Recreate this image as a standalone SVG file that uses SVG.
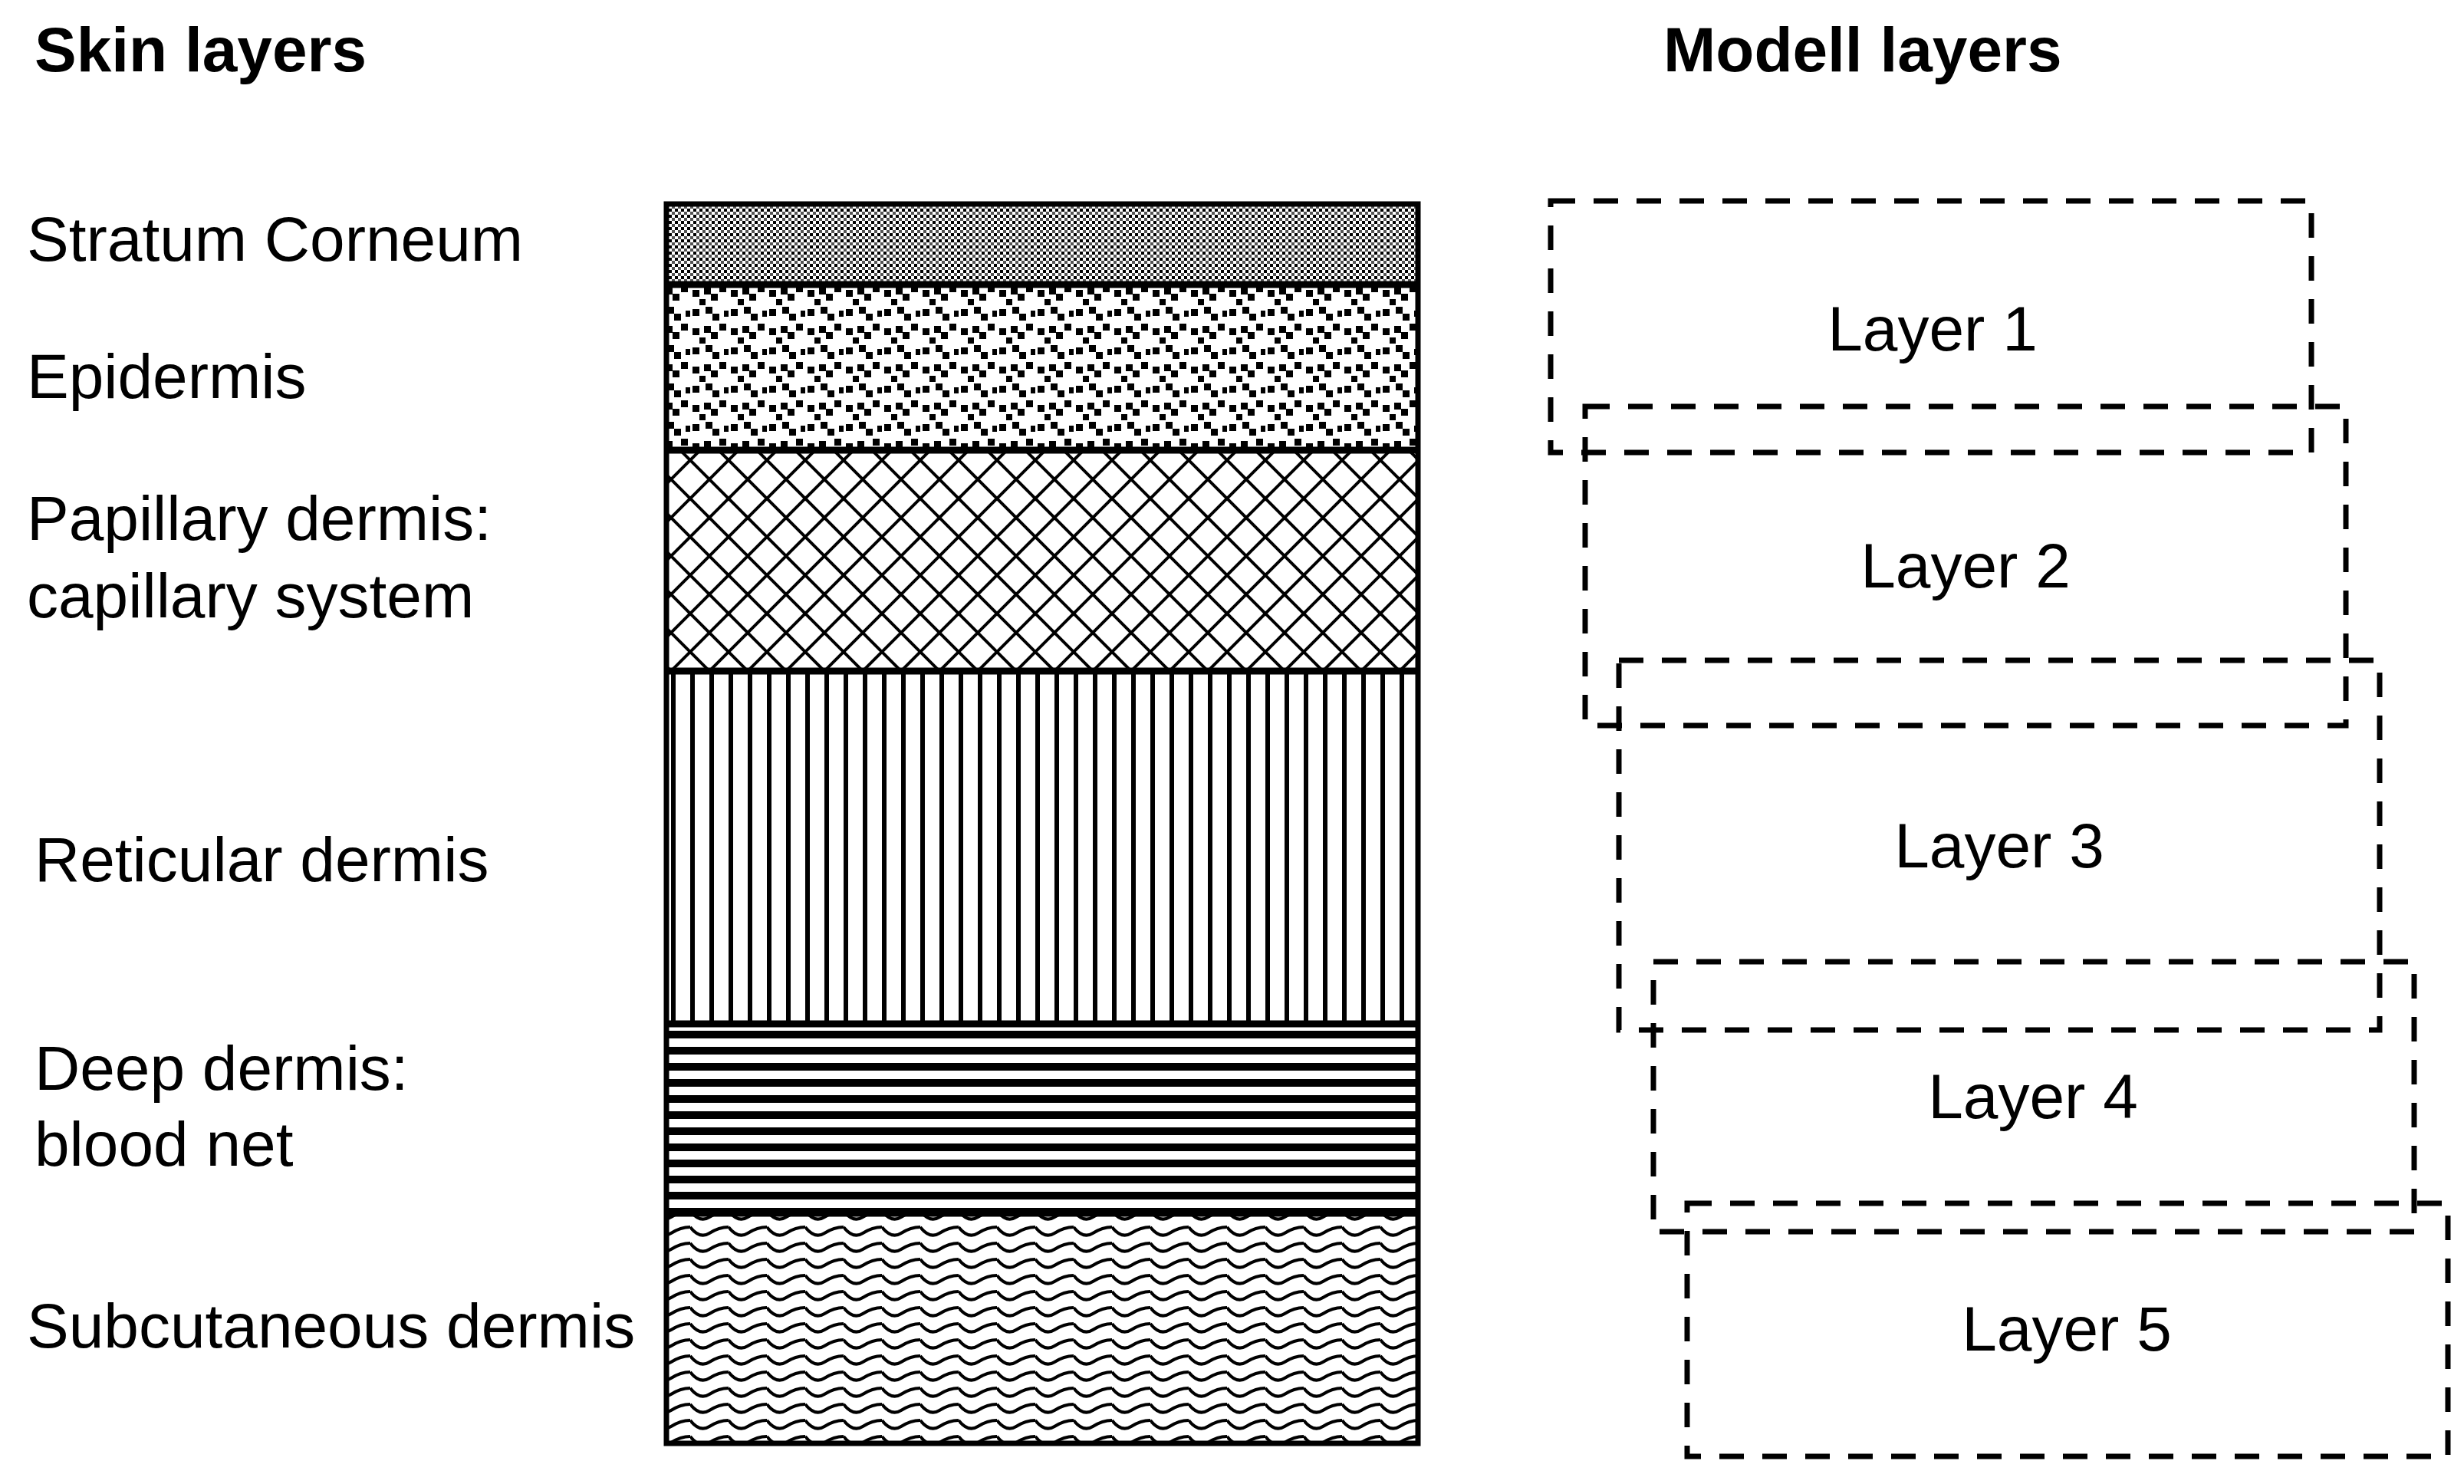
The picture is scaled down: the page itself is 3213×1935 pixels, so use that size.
<svg xmlns="http://www.w3.org/2000/svg" width="3213" height="1935" viewBox="0 0 3213 1935">
<defs>
<style>
text{font-family:"Liberation Sans",Arial,sans-serif;font-size:82px;fill:#000}
.t{font-weight:bold}
.c{text-anchor:middle}
.d{fill:none;stroke:#000;stroke-width:7;stroke-dasharray:32 24}
.sep{stroke:#000;stroke-width:9}
</style>
<pattern id="p1" width="8" height="8" patternUnits="userSpaceOnUse"><rect width="8" height="8" fill="#fff"/><rect x="0" y="0" width="4" height="4" fill="#000"/><rect x="4" y="4" width="4" height="4" fill="#555"/></pattern>
<pattern id="p2" width="50" height="50" patternUnits="userSpaceOnUse"><rect width="50" height="50" fill="#fff"/><g fill="#000"><rect x="3" y="3" width="9" height="9"/><rect x="20" y="0" width="9" height="9"/><rect x="29" y="9" width="9" height="9"/><rect x="44" y="5" width="8" height="8"/><rect x="3" y="28" width="9" height="9"/><rect x="18" y="25" width="9" height="9"/><rect x="27" y="33" width="9" height="9"/><rect x="38" y="22" width="9" height="9"/><rect x="12" y="40" width="8" height="8"/></g></pattern>
<pattern id="p3" width="50" height="50" patternUnits="userSpaceOnUse"><rect width="50" height="50" fill="#fff"/><path d="M0 0L50 50M50 0L0 50" stroke="#000" stroke-width="4"/></pattern>
<pattern id="p4" width="25" height="40" patternUnits="userSpaceOnUse"><rect width="25" height="40" fill="#fff"/><rect x="0" width="6" height="40" fill="#000"/></pattern>
<pattern id="p5" width="40" height="21" patternUnits="userSpaceOnUse"><rect width="40" height="21" fill="#fff"/><rect y="0" width="40" height="10" fill="#000"/></pattern>
<pattern id="p6" width="50" height="21" patternUnits="userSpaceOnUse"><rect width="50" height="21" fill="#fff"/><path d="M0 4Q12.5 20 25 12T50 4" fill="none" stroke="#000" stroke-width="4"/></pattern>
</defs>
<text class="t" x="45" y="93">Skin layers</text>
<text class="t" x="2169" y="93">Modell layers</text>
<g id="skin">
<rect x="869" y="266" width="980" height="105" fill="url(#p1)"/>
<rect x="869" y="371" width="980" height="216" fill="url(#p2)"/>
<rect x="869" y="587" width="980" height="288" fill="url(#p3)"/>
<rect x="869" y="875" width="980" height="460" fill="url(#p4)"/>
<rect x="869" y="1335" width="980" height="247" fill="url(#p5)"/>
<rect x="869" y="1582" width="980" height="300" fill="url(#p6)"/>
<line class="sep" x1="869" y1="371" x2="1849" y2="371"/>
<line class="sep" x1="869" y1="587" x2="1849" y2="587"/>
<line class="sep" x1="869" y1="875" x2="1849" y2="875"/>
<line class="sep" x1="869" y1="1335" x2="1849" y2="1335"/>
<line class="sep" x1="869" y1="1582" x2="1849" y2="1582"/>
<rect x="869" y="266" width="980" height="1616" fill="none" stroke="#000" stroke-width="7"/>
</g>
<g id="labels">
<text x="35" y="340">Stratum Corneum</text>
<text x="35" y="519">Epidermis</text>
<text x="35" y="704">Papillary dermis:</text>
<text x="35" y="805">capillary system</text>
<text x="45" y="1149">Reticular dermis</text>
<text x="45" y="1421">Deep dermis:</text>
<text x="45" y="1520">blood net</text>
<text x="35" y="1757">Subcutaneous dermis</text>
</g>
<g id="layer1"><rect class="d" x="2022" y="262" width="992" height="328"/><text class="c" x="2520" y="457">Layer 1</text></g>
<g id="layer2"><rect class="d" x="2067" y="530" width="992" height="416"/><text class="c" x="2563" y="766">Layer 2</text></g>
<g id="layer3"><rect class="d" x="2111" y="861" width="992" height="482"/><text class="c" x="2607" y="1131">Layer 3</text></g>
<g id="layer4"><rect class="d" x="2156" y="1254" width="992" height="352"/><text class="c" x="2651" y="1458">Layer 4</text></g>
<g id="layer5"><rect class="d" x="2200" y="1569" width="992" height="330"/><text class="c" x="2695" y="1761">Layer 5</text></g>
</svg>
